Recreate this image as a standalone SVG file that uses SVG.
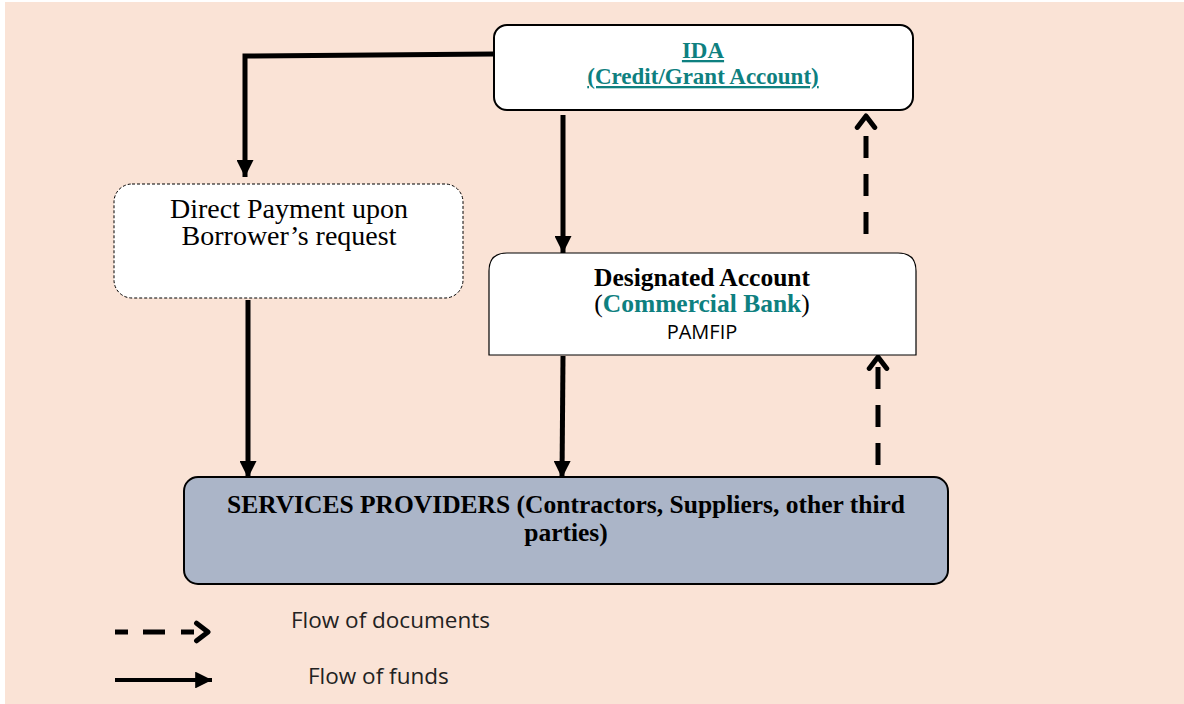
<svg xmlns="http://www.w3.org/2000/svg" width="1184" height="704" viewBox="0 0 1184 704">
<defs>
<marker id="tri" viewBox="0 0 10 10" refX="10" refY="5" markerWidth="3.4" markerHeight="3.4" orient="auto" markerUnits="strokeWidth">
<path d="M0,0 L10,5 L0,10 Z" fill="#000"/>
</marker>
<marker id="tri2" viewBox="0 0 10 10" refX="10" refY="5" markerWidth="4.2" markerHeight="4.2" orient="auto" markerUnits="strokeWidth">
<path d="M0,0 L10,5 L0,10 Z" fill="#000"/>
</marker>
<marker id="chev" viewBox="0 0 12 12" refX="10" refY="6" markerWidth="5" markerHeight="5" orient="auto" markerUnits="strokeWidth">
<path d="M4.5,1.8 L10,6 L4.5,10.2" fill="none" stroke="#000" stroke-width="2.4" stroke-linecap="round" stroke-linejoin="round"/>
</marker>
</defs>
<style>
.serif{font-family:"Liberation Serif","Times New Roman",serif}
.sans{font-family:"Open Sans","Liberation Sans",Arial,sans-serif}
.teal{fill:#0E8080}
.fund{fill:none;stroke:#000;stroke-width:5;marker-end:url(#tri)}
.doc{fill:none;stroke:#000;stroke-width:5;stroke-dasharray:22,16;marker-end:url(#chev)}
</style>
<rect width="1184" height="704" fill="#fff"/>
<rect x="5" y="2" width="1179" height="702" fill="#FAE3D6"/>

<g id="connectors">
<polyline class="fund" points="494,54 245,56 245,177"/>
<line class="fund" x1="563" y1="115" x2="563" y2="253"/>
<line class="doc" x1="866" y1="246" x2="866" y2="116" stroke-dashoffset="-12"/>
<line class="fund" x1="248" y1="300" x2="248" y2="478"/>
<line class="fund" x1="563" y1="356" x2="562" y2="478"/>
<line class="doc" x1="878" y1="465" x2="878" y2="357"/>
</g>

<g id="ida">
<rect x="494" y="25" width="419" height="85" rx="13" fill="#fff" stroke="#000" stroke-width="2"/>
<text class="serif teal" x="703" y="58" font-size="23" font-weight="bold" text-anchor="middle" text-decoration="underline">IDA</text>
<text class="serif teal" x="703" y="84" font-size="23" font-weight="bold" text-anchor="middle" text-decoration="underline">(Credit/Grant Account)</text>
</g>

<g id="direct-payment">
<rect x="114" y="184" width="349" height="114" rx="18" fill="#fff" stroke="#000" stroke-width="1" stroke-dasharray="3,2"/>
<text class="serif" x="289" y="218" font-size="28" text-anchor="middle">Direct Payment upon</text>
<text class="serif" x="289" y="245" font-size="28" text-anchor="middle">Borrower’s request</text>
</g>

<g id="designated-account">
<path d="M489,355 L489,271 Q489,253 507,253 L898,253 Q916,253 916,271 L916,355 Z" fill="#fff" stroke="#000" stroke-width="1.2"/>
<text class="serif" x="702" y="286" font-size="25.5" font-weight="bold" text-anchor="middle">Designated Account</text>
<text class="serif" x="702" y="312" font-size="25.5" font-weight="bold" text-anchor="middle"><tspan font-weight="normal">(</tspan><tspan class="teal">Commercial Bank</tspan><tspan font-weight="normal">)</tspan></text>
<text class="sans" x="702" y="339" font-size="20" text-anchor="middle">PAMFIP</text>
</g>

<g id="services-providers">
<rect x="184" y="477" width="764" height="107" rx="14" fill="#ABB5C8" stroke="#000" stroke-width="2"/>
<text class="serif" x="566" y="513" font-size="25.5" font-weight="bold" text-anchor="middle">SERVICES PROVIDERS (Contractors, Suppliers, other third</text>
<text class="serif" x="566" y="541" font-size="25.5" font-weight="bold" text-anchor="middle">parties)</text>
</g>

<g id="legend">
<line x1="115" y1="632" x2="208" y2="632" stroke="#000" stroke-width="5" stroke-dasharray="13,15,22,16" marker-end="url(#chev)"/>
<line x1="115" y1="680" x2="212" y2="680" stroke="#000" stroke-width="4" marker-end="url(#tri2)"/>
<text class="sans" x="291" y="628" font-size="22.5" fill="#222">Flow of documents</text>
<text class="sans" x="308" y="684" font-size="22.5" fill="#222">Flow of funds</text>
</g>
</svg>
